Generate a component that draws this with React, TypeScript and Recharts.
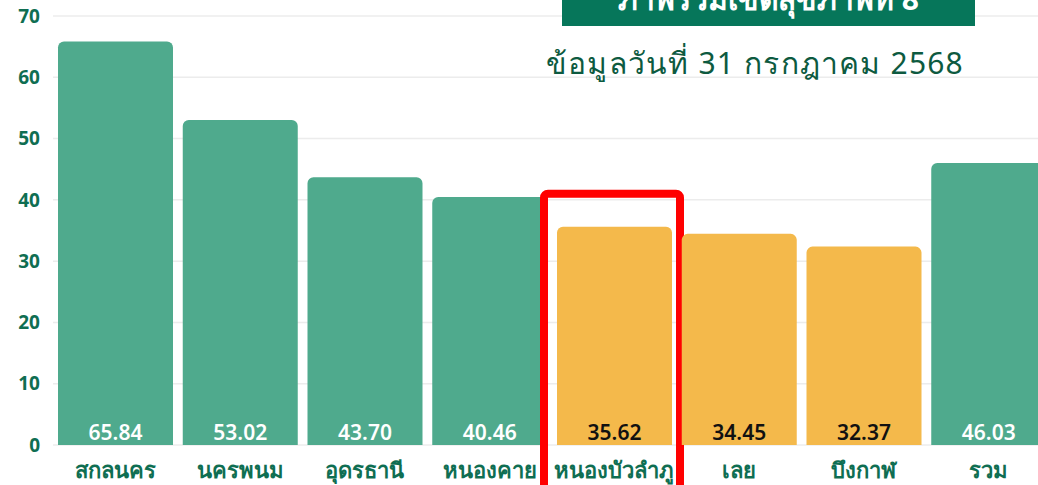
import React from "react";
import {
  BarChart,
  Bar,
  XAxis,
  YAxis,
  CartesianGrid,
  LabelList,
  Rectangle,
} from "recharts";

const provinces = [
  "สกลนคร",
  "นครพนม",
  "อุดรธานี",
  "หนองคาย",
  "หนองบัวลำภู",
  "เลย",
  "บึงกาฬ",
  "รวม",
];
const rates = [65.84, 53.02, 43.7, 40.46, 35.62, 34.45, 32.37, 46.03];
const yTicks = [0, 10, 20, 30, 40, 50, 60, 70];
const target = 40;
const highlighted = "หนองบัวลำภู";
const highlightTop = 41;
const bannerTitle = "ภาพรวมเขตสุขภาพที่ 8";
const subtitle = "ข้อมูลวันที่ 31 กรกฎาคม 2568";

const data = provinces.map((name, i) => ({ name, rate: rates[i] }));

const GREEN = "#4faa8d";
const YELLOW = "#f4b94b";
const TEXT_GREEN = "#0f6e52";
const FONT = "'Noto Sans', sans-serif";

const ValueLabel = (props: any) => {
  const { x, y, width, height, value, index } = props;
  const low = rates[index] < target;
  return (
    <text
      x={x + width / 2}
      y={y + height - 5}
      textAnchor="middle"
      fontSize={21}
      fontWeight={600}
      fontFamily={FONT}
      fill={low ? "#111" : "#fff"}
    >
      {Number(value).toFixed(2)}
    </text>
  );
};

// bar + red frame for the highlighted province
const BarShape = (props: any) => {
  const { x, y, width, height, payload } = props;
  const fill = payload.rate < target ? YELLOW : GREEN;
  const bar = <Rectangle x={x} y={y} width={width} height={height} radius={[6, 6, 0, 0]} fill={fill} />;
  if (payload.name !== highlighted) return bar;
  const base = y + height;
  const pxPerUnit = height / payload.rate;
  const top = base - highlightTop * pxPerUnit;
  return (
    <g>
      {bar}
      <rect
        x={x - 13}
        y={top}
        width={width + 21}
        height={base - top + 60}
        rx={4}
        fill="none"
        stroke="#ff0000"
        strokeWidth={8}
      />
    </g>
  );
};

export default function App() {
  return (
    <div
      style={{
        position: "fixed",
        left: 0,
        top: 0,
        width: 1038,
        height: 485,
        overflow: "hidden",
        background: "#fff",
      }}
    >
      <BarChart
        width={1051}
        height={485}
        data={data}
        margin={{ top: 16, right: 0, left: 0, bottom: 0 }}
        barCategoryGap={5}
      >
        <CartesianGrid vertical={false} stroke="#ececec" strokeWidth={1.5} />
        <XAxis
          dataKey="name"
          height={40}
          axisLine={false}
          tickLine={false}
          tickSize={0}
          tickMargin={17}
          tick={{ fill: TEXT_GREEN, fontSize: 22, fontWeight: 700, fontFamily: FONT }}
          interval={0}
        />
        <YAxis
          width={53}
          domain={[0, 70]}
          ticks={yTicks}
          axisLine={false}
          tickLine={false}
          tickSize={0}
          tickMargin={13}
          tick={{ fill: TEXT_GREEN, fontSize: 19, fontWeight: 700, fontFamily: FONT }}
        />
        <Bar dataKey="rate" shape={<BarShape />} isAnimationActive={false}>
          <LabelList dataKey="rate" content={<ValueLabel />} />
        </Bar>
      </BarChart>
      <div
        style={{
          position: "absolute",
          left: 562,
          top: 0,
          width: 413,
          height: 26,
          background: "#06765a",
          overflow: "hidden",
          color: "#fff",
          fontFamily: FONT,
          fontWeight: 700,
          fontSize: 30,
          textAlign: "center",
          lineHeight: "30px",
        }}
      >
        <div style={{ marginTop: -16 }}>{bannerTitle}</div>
      </div>
      <div
        style={{
          position: "absolute",
          left: 530,
          top: 40,
          width: 450,
          textAlign: "center",
          color: "#0d5a40",
          fontFamily: FONT,
          fontSize: 30,
          letterSpacing: 1.2,
          whiteSpace: "nowrap",
        }}
      >
        {subtitle}
      </div>
    </div>
  );
}
